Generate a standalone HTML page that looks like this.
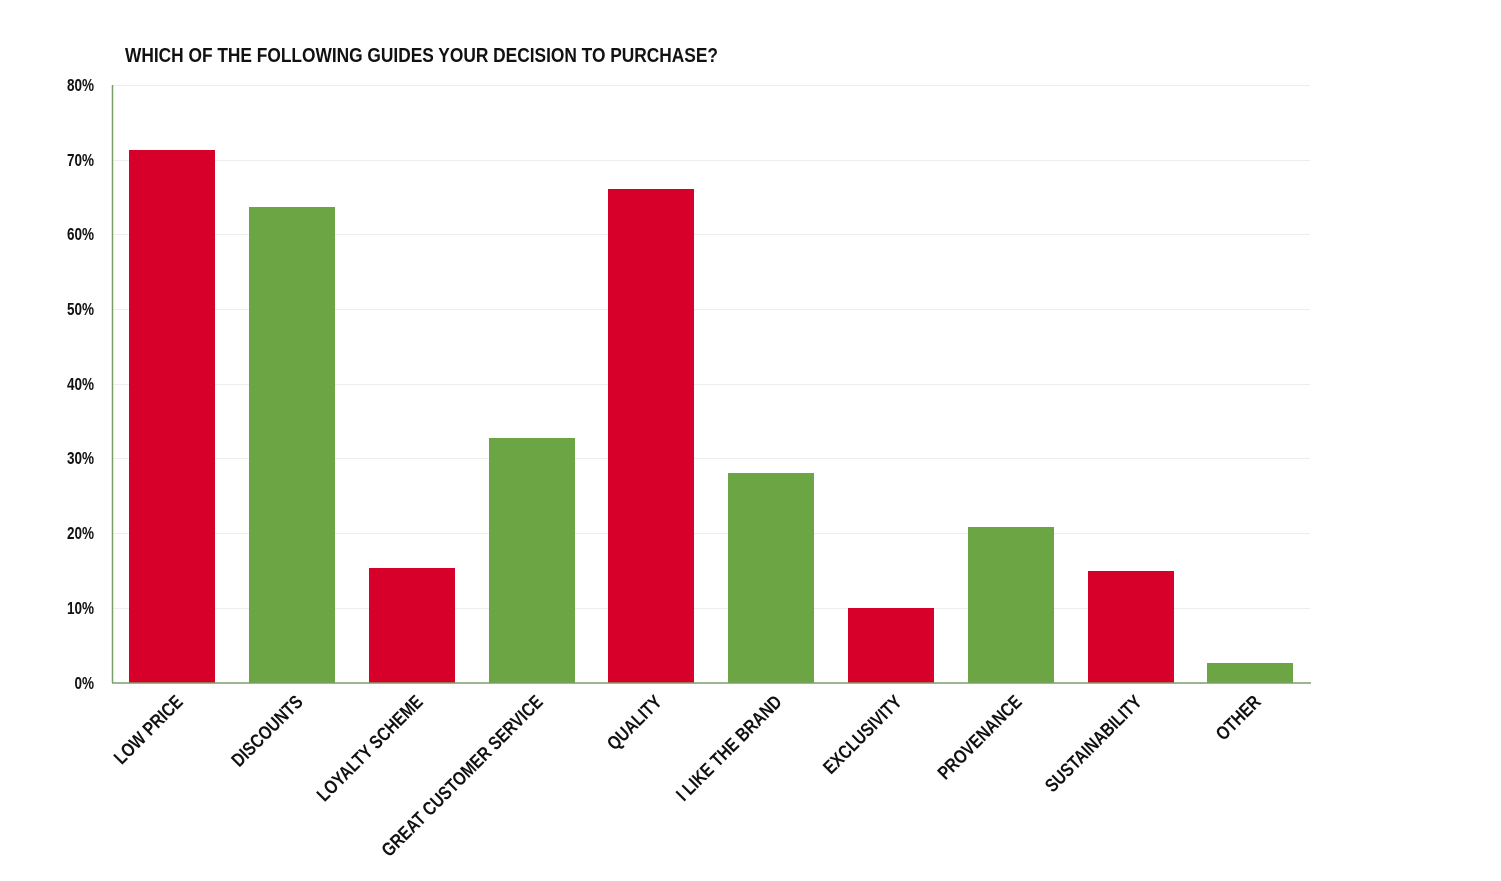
<!DOCTYPE html>
<html><head><meta charset="utf-8"><style>body{margin:0;background:#fff}svg{display:block}text{font-family:"Liberation Sans Narrow","Liberation Sans",sans-serif;font-weight:bold;fill:#111}</style></head>
<body>
<svg width="1501" height="881" viewBox="0 0 1501 881">
<text x="125" y="62" font-size="20" textLength="593" lengthAdjust="spacingAndGlyphs">WHICH OF THE FOLLOWING GUIDES YOUR DECISION TO PURCHASE?</text>
<g stroke="#eeeeee" stroke-width="1">
<line x1="112" x2="1310" y1="85.5" y2="85.5"/><line x1="112" x2="1310" y1="160.5" y2="160.5"/><line x1="112" x2="1310" y1="234.5" y2="234.5"/><line x1="112" x2="1310" y1="309.5" y2="309.5"/><line x1="112" x2="1310" y1="384.5" y2="384.5"/><line x1="112" x2="1310" y1="458.5" y2="458.5"/><line x1="112" x2="1310" y1="533.5" y2="533.5"/><line x1="112" x2="1310" y1="608.5" y2="608.5"/>
</g>
<g font-size="18" text-anchor="end">
<text transform="translate(94,91) scale(0.75,1)">80%</text><text transform="translate(94,166) scale(0.75,1)">70%</text><text transform="translate(94,240) scale(0.75,1)">60%</text><text transform="translate(94,315) scale(0.75,1)">50%</text><text transform="translate(94,390) scale(0.75,1)">40%</text><text transform="translate(94,464) scale(0.75,1)">30%</text><text transform="translate(94,539) scale(0.75,1)">20%</text><text transform="translate(94,614) scale(0.75,1)">10%</text><text transform="translate(94,689) scale(0.75,1)">0%</text>
</g>
<g>
<rect x="129" y="150" width="86" height="533" fill="#d7002a"/>
<rect x="249" y="207" width="86" height="476" fill="#6ca644"/>
<rect x="369" y="568" width="86" height="115" fill="#d7002a"/>
<rect x="489" y="438" width="86" height="245" fill="#6ca644"/>
<rect x="608" y="189" width="86" height="494" fill="#d7002a"/>
<rect x="728" y="473" width="86" height="210" fill="#6ca644"/>
<rect x="848" y="608" width="86" height="75" fill="#d7002a"/>
<rect x="968" y="527" width="86" height="156" fill="#6ca644"/>
<rect x="1088" y="571" width="86" height="112" fill="#d7002a"/>
<rect x="1207" y="663" width="86" height="20" fill="#6ca644"/>
</g>
<line x1="112" x2="1311" y1="683" y2="683" stroke="#7a9e68" stroke-width="1.5"/>
<line x1="112.5" x2="112.5" y1="85" y2="683" stroke="#7a9e68" stroke-width="1.5"/>
<g font-size="19" text-anchor="end">
<text transform="translate(184,703) rotate(-45) scale(0.82,1)">LOW PRICE</text>
<text transform="translate(304,703) rotate(-45) scale(0.82,1)">DISCOUNTS</text>
<text transform="translate(424,703) rotate(-45) scale(0.82,1)">LOYALTY SCHEME</text>
<text transform="translate(544,703) rotate(-45) scale(0.82,1)">GREAT CUSTOMER SERVICE</text>
<text transform="translate(663,703) rotate(-45) scale(0.82,1)">QUALITY</text>
<text transform="translate(783,703) rotate(-45) scale(0.82,1)">I LIKE THE BRAND</text>
<text transform="translate(903,703) rotate(-45) scale(0.82,1)">EXCLUSIVITY</text>
<text transform="translate(1023,703) rotate(-45) scale(0.82,1)">PROVENANCE</text>
<text transform="translate(1143,703) rotate(-45) scale(0.82,1)">SUSTAINABILITY</text>
<text transform="translate(1262,703) rotate(-45) scale(0.82,1)">OTHER</text>
</g>
</svg>
</body></html>
